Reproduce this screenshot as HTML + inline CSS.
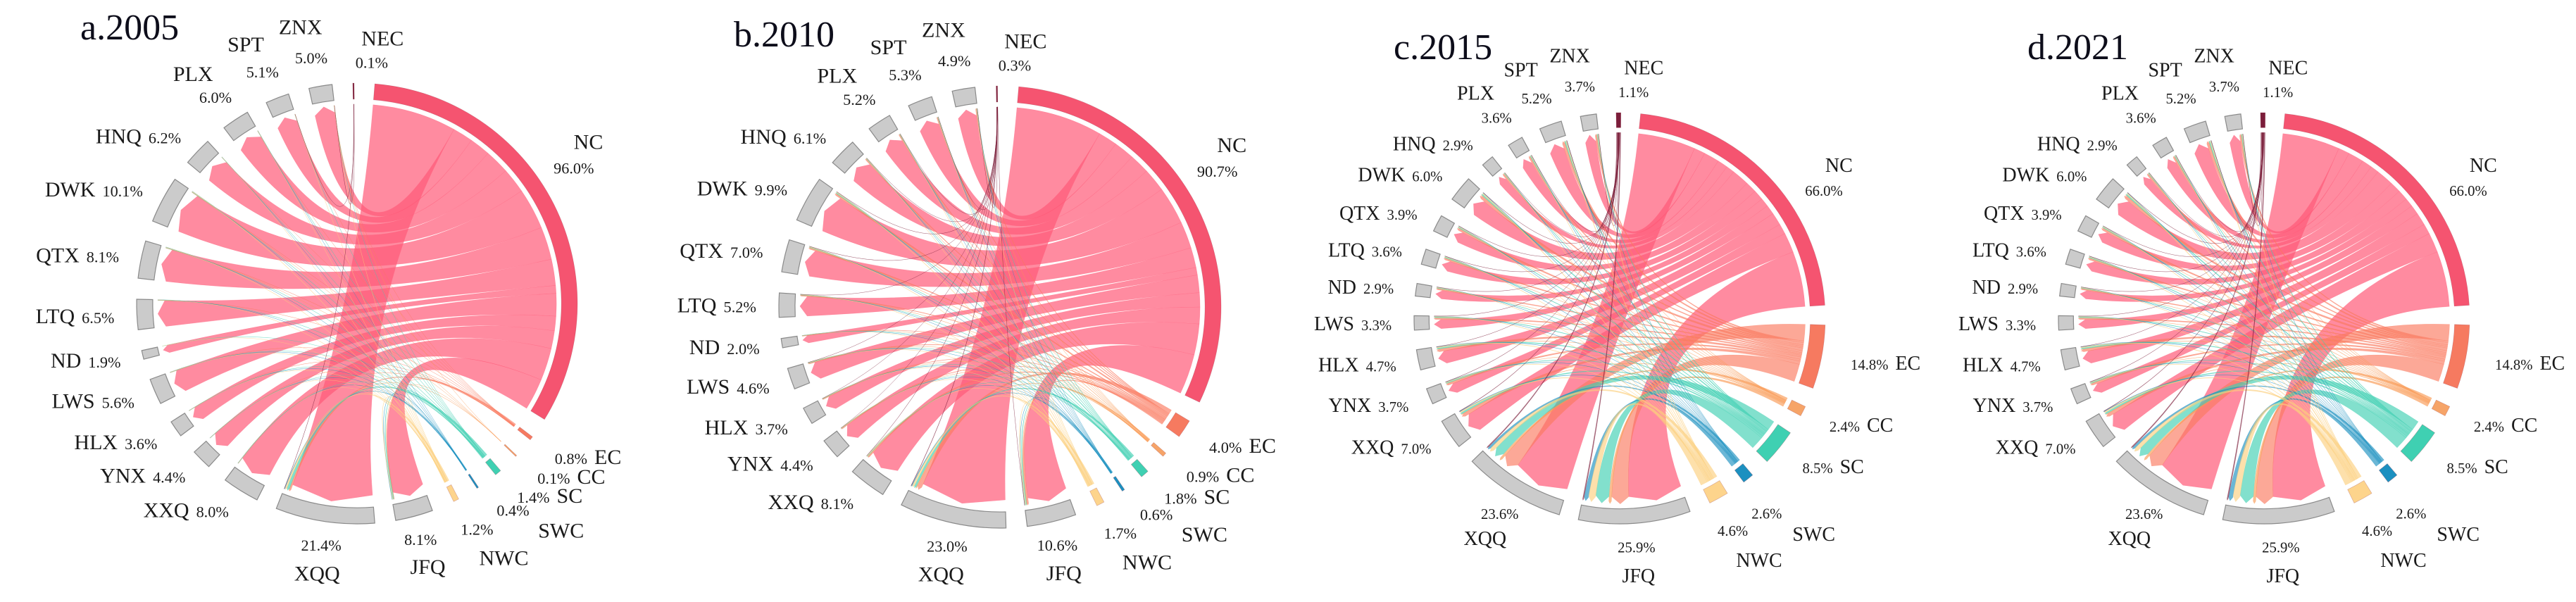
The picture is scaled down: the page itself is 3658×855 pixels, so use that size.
<!DOCTYPE html>
<html><head><meta charset="utf-8"><title>Chord diagrams 2005-2021</title>
<style>
html,body{margin:0;padding:0;background:#fff;}
svg{display:block;font-family:"Liberation Serif",serif;}
</style></head>
<body>
<svg id="chart" width="3658" height="855" viewBox="0 0 3658 855" xmlns="http://www.w3.org/2000/svg">
<rect x="0" y="0" width="3658" height="855" fill="#ffffff"/>
</svg>
<script>
// ---- data ----
const sources = ['NEC','NC','EC','CC','SC','SWC','NWC'];
const dests = ['JFQ','XQQ','XXQ','YNX','HLX','LWS','ND','LTQ','QTX','DWK','HNQ','PLX','SPT','ZNX'];
const years = ['a.2005','b.2010','c.2015','d.2021'];

const srcVals2005 = [0.1,96.0,0.8,0.1,1.4,0.4,1.2];
const dstVals2005 = [8.1,21.4,8.0,4.4,3.6,5.6,1.9,6.5,8.1,10.1,6.2,6.0,5.1,5.0];
const srcVals2010 = [0.3,90.7,4.0,0.9,1.8,0.6,1.7];
const dstVals2010 = [10.6,23.0,8.1,4.4,3.7,4.6,2.0,5.2,7.0,9.9,6.1,5.2,5.3,4.9];
const srcVals2015 = [1.1,66.0,14.8,2.4,8.5,2.6,4.6];
const dstVals2015 = [25.9,23.6,7.0,3.7,4.7,3.3,2.9,3.6,3.9,6.0,2.9,3.6,5.2,3.7];
const srcVals2021 = [1.1,66.0,14.8,2.4,8.5,2.6,4.6];
const dstVals2021 = [25.9,23.6,7.0,3.7,4.7,3.3,2.9,3.6,3.9,6.0,2.9,3.6,5.2,3.7];

// flows: rows = sources (NEC,NC,EC,CC,SC,SWC,NWC), cols = dests
const flows2005 = [
 [0,0.05,0,0,0,0,0,0,0,0,0,0,0.02,0.03],
 [7.6,20.2,7.8,4.3,3.5,5.4,1.9,6.3,7.9,9.9,6.1,5.9,5.0,4.9],
 [0.1,0.4,0.05,0.02,0.02,0.03,0,0.04,0.04,0.05,0.02,0.02,0.01,0.01],
 [0.01,0.05,0,0,0,0,0,0,0.01,0.01,0,0,0,0.01],
 [0.2,0.6,0.05,0.05,0.04,0.06,0.01,0.06,0.08,0.1,0.05,0.05,0.03,0.02],
 [0.1,0.15,0.02,0.01,0.01,0.02,0,0.02,0.02,0.02,0.01,0.01,0,0],
 [0.15,0.4,0.05,0.03,0.03,0.05,0.01,0.06,0.1,0.12,0.05,0.05,0.03,0.03]
];
const flows2010 = [
 [0.02,0.1,0.03,0.01,0.01,0.01,0,0.01,0.02,0.03,0.01,0.01,0.01,0.01],
 [9.6,20.6,7.4,4.0,3.4,4.2,1.8,4.8,6.4,9.1,5.6,4.8,4.9,4.5],
 [0.4,1.0,0.3,0.2,0.15,0.2,0.1,0.2,0.3,0.4,0.25,0.2,0.2,0.2],
 [0.1,0.25,0.07,0.04,0.03,0.04,0.02,0.05,0.07,0.08,0.05,0.04,0.04,0.04],
 [0.2,0.5,0.1,0.05,0.05,0.08,0.03,0.08,0.12,0.2,0.1,0.1,0.1,0.1],
 [0.1,0.2,0.04,0.02,0.02,0.02,0.01,0.02,0.04,0.05,0.03,0.02,0.02,0.02],
 [0.2,0.45,0.15,0.08,0.07,0.08,0.04,0.08,0.12,0.15,0.08,0.06,0.06,0.06]
];
const flows2015 = [
 [0.3,0.3,0.1,0.05,0.05,0.04,0.03,0.04,0.04,0.06,0.03,0.04,0.06,0.05],
 [14,14.5,5,2.6,3.2,2.4,2.2,2.6,2.8,4.4,2.1,2.6,3.9,2.8],
 [4.5,4.2,0.8,0.5,0.6,0.4,0.3,0.4,0.5,0.7,0.4,0.4,0.6,0.4],
 [0.7,0.6,0.15,0.08,0.1,0.07,0.06,0.08,0.08,0.12,0.06,0.08,0.1,0.08],
 [3.5,2.5,0.4,0.2,0.3,0.2,0.15,0.2,0.2,0.35,0.15,0.2,0.3,0.2],
 [1.1,0.6,0.15,0.08,0.1,0.07,0.06,0.07,0.08,0.12,0.06,0.07,0.1,0.07],
 [1.8,1.0,0.3,0.15,0.2,0.13,0.1,0.13,0.15,0.25,0.1,0.13,0.2,0.13]
];
const flows2021 = flows2015;

// ---- layout / style (not data) ----
const panels = [
 {title:years[0], tx:114, ty:56, cx:507, cy:431, r:313, sv:srcVals2005, dv:dstVals2005, fl:flows2005},
 {title:years[1], tx:1042, ty:66, cx:1420, cy:436, r:314, sv:srcVals2010, dv:dstVals2010, fl:flows2010},
 {title:years[2], tx:1979, ty:84, cx:2300, cy:452, r:292, sv:srcVals2015, dv:dstVals2015, fl:flows2015},
 {title:years[3], tx:2879, ty:84, cx:3215, cy:452, r:292, sv:srcVals2021, dv:dstVals2021, fl:flows2021}
];
const srcColors = ['#7b1d3a','#f55470','#f67a60','#f6a468','#3fd0b2','#1c90c0','#fdd48c'];
const chordColors = ['#7b1d3a','#ff5a78','#fb7a60','#f99a55','#3fd0b2','#1c90c0','#fcd07e'];
const UNIT = 1.22, GAP = 5.5, SRC_START = -1, DST_START = 160;
const srcOrderAtNode = [1,13,12,11,10,9,8,7,6,5,4,3,2,0]; // dest indices
const dstOrderAtNode = [1,2,3,4,6,5,0]; // source indices
const labelType = {NEC:'nec',ZNX:'up',SPT:'up',PLX:'up',NC:'nc',EC:'right',CC:'right',SC:'right',
  SWC:'swc',NWC:'nwc',JFQ:'down',XQQ:'down'};

const svg = document.getElementById('chart');
const NS = 'http://www.w3.org/2000/svg';
function mk(tag, attrs, parent){
  const e = document.createElementNS(NS, tag);
  for (const k in attrs) e.setAttribute(k, attrs[k]);
  parent.appendChild(e);
  return e;
}
function rad(d){return d*Math.PI/180;}

panels.forEach((p, pi) => {
  const g = mk('g', {}, svg);
  
  
  const P = (a, R) => [p.cx + R*Math.sin(rad(a)), p.cy - R*Math.cos(rad(a))];
  const bw = p.r*0.073, rIn = p.r - bw, rc = rIn - 7;
  const nameSize = p.r*0.096, pctSize = p.r*0.071;

  const sA = [], dA = [];
  let a = SRC_START;
  p.sv.forEach(v => { sA.push([a, a + v*UNIT]); a += v*UNIT + GAP; });
  a = DST_START;
  p.dv.forEach(v => { dA.push([a, a + v*UNIT]); a += v*UNIT + GAP; });

  const srcPos = {}, dstPos = {};
  p.sv.forEach((v, si) => {
    const row = p.fl[si]; const tot = row.reduce((s,x)=>s+x,0) || 1;
    let c = sA[si][0]; const span = sA[si][1]-sA[si][0];
    srcOrderAtNode.forEach(di => { const w = row[di]/tot*span; srcPos[si+'-'+di] = [c, c+w]; c += w; });
  });
  p.dv.forEach((v, di) => {
    let tot = 0; p.fl.forEach(row => tot += row[di]); tot = tot || 1;
    let c = dA[di][0]; const span = dA[di][1]-dA[di][0];
    dstOrderAtNode.forEach(si => { const w = p.fl[si][di]/tot*span; dstPos[si+'-'+di] = [c, c+w]; c += w; });
  });

  const cg = mk('g', {}, g);
  
  
  [1,2,3,4,5,6,0].forEach(si => {
    dests.forEach((dn, di) => {
      if (p.fl[si][di] <= 0) return;
      const [a0,a1] = srcPos[si+'-'+di], [b0,b1] = dstPos[si+'-'+di];
      const s0 = P(a0, rc), s1 = P(a1, rc);
      const tip = Math.min(10, (b1-b0)*3 + 1);
      const t0 = P(b0, rc - tip), tm = P((b0+b1)/2, rc), t1 = P(b1, rc - tip);
      const la = (a1-a0) > 180 ? 1 : 0;
      const d = `M${s0[0].toFixed(1)},${s0[1].toFixed(1)} A${rc},${rc} 0 ${la} 1 ${s1[0].toFixed(1)},${s1[1].toFixed(1)} ` +
        `Q${p.cx},${p.cy} ${t0[0].toFixed(1)},${t0[1].toFixed(1)} L${tm[0].toFixed(1)},${tm[1].toFixed(1)} L${t1[0].toFixed(1)},${t1[1].toFixed(1)} ` +
        `Q${p.cx},${p.cy} ${s0[0].toFixed(1)},${s0[1].toFixed(1)} Z`;
      const path = mk('path', {d:d, fill:chordColors[si], 'fill-opacity': si===1?0.7:0.65,
        stroke:chordColors[si], 'stroke-opacity':0.4, 'stroke-width':0.5}, cg);
      
      
    });
  });

  function arcPath(a0, a1){
    if (a1 - a0 < 0.35) { const m=(a0+a1)/2; a0 = m-0.175; a1 = m+0.175; }
    const o0=P(a0,p.r), o1=P(a1,p.r), i1=P(a1,rIn), i0=P(a0,rIn);
    const la = (a1-a0) > 180 ? 1 : 0;
    return `M${o0[0]},${o0[1]} A${p.r},${p.r} 0 ${la} 1 ${o1[0]},${o1[1]} L${i1[0]},${i1[1]} A${rIn},${rIn} 0 ${la} 0 ${i0[0]},${i0[1]} Z`;
  }
  const ag = mk('g', {}, g);
  
  
  sources.forEach((n, si) => {
    const e = mk('path', {d:arcPath(sA[si][0], sA[si][1]), fill:srcColors[si], stroke:'#9a4050', 'stroke-width':0.6, 'stroke-opacity':0.4}, ag);
    
    
  });
  dests.forEach((n, di) => {
    const e = mk('path', {d:arcPath(dA[di][0], dA[di][1]), fill:'#cbcbcb', stroke:'#8a8a8a', 'stroke-width':1.2}, ag);
    
    
  });

  const lg = mk('g', {fill:'#1a1a1a'}, g);
  
  
  function txt(str, xy, size, anchor, name){
    const t = mk('text', {x:xy[0].toFixed(1), y:(xy[1] + size*0.35).toFixed(1), 'font-size':size.toFixed(1), 'text-anchor':anchor}, lg);
    t.textContent = str;
    
    
    return t;
  }
  function label(n, v, range){
    const m = (range[0]+range[1])/2, pct = v.toFixed(1) + '%', key = n.toLowerCase();
    const type = labelType[n] || 'left';
    if (type === 'up') {
      txt(n, P(m-2, p.r+88), nameSize, 'middle', 'label-' + key);
      txt(pct, P(m-1, p.r+42), pctSize, 'middle', 'value-' + key);
    } else if (type === 'nec') {
      txt(n, P(5.5, p.r+66), nameSize, 'middle', 'label-' + key);
      txt(pct, P(3.5, p.r+30), pctSize, 'middle', 'value-' + key);
    } else if (type === 'nc') {
      txt(n, P(55, p.r+88), nameSize, 'middle', 'label-' + key);
      txt(pct, P(58, p.r+50), pctSize, 'middle', 'value-' + key);
    } else if (type === 'down') {
      txt(pct, P(m, p.r+34), pctSize, 'middle', 'value-' + key);
      txt(n, P(m, p.r+74), nameSize, 'middle', 'label-' + key);
    } else if (type === 'swc') {
      txt(pct, P(143, p.r+55), pctSize, 'middle', 'value-' + key);
      txt(n, P(138, p.r+120), nameSize, 'middle', 'label-' + key);
    } else if (type === 'nwc') {
      txt(pct, P(152, p.r+50), pctSize, 'middle', 'value-' + key);
      txt(n, P(150, p.r+104), nameSize, 'middle', 'label-' + key);
    } else if (type === 'right') {
      const xy = P(m, p.r+42);
      const t = mk('text', {x:xy[0].toFixed(1), y:(xy[1]+nameSize*0.35).toFixed(1), 'text-anchor':'start'}, lg);
      
      
      const t1 = mk('tspan', {'font-size':pctSize.toFixed(1)}, t); t1.textContent = pct;
      const t2 = mk('tspan', {'font-size':nameSize.toFixed(1), dx:10}, t); t2.textContent = n;
    } else {
      const xy = P(m, p.r+32);
      const t = mk('text', {x:xy[0].toFixed(1), y:(xy[1]+nameSize*0.35).toFixed(1), 'text-anchor':'end'}, lg);
      
      
      const t1 = mk('tspan', {'font-size':nameSize.toFixed(1)}, t); t1.textContent = n;
      const t2 = mk('tspan', {'font-size':pctSize.toFixed(1), dx:10}, t); t2.textContent = pct;
    }
  }
  sources.forEach((n, si) => label(n, p.sv[si], sA[si]));
  dests.forEach((n, di) => label(n, p.dv[di], dA[di]));

  const title = mk('text', {x:p.tx, y:p.ty, 'font-size':52, fill:'#0d0d1a'}, g);
  title.textContent = p.title;
  
  
});
</script>
</body></html>
